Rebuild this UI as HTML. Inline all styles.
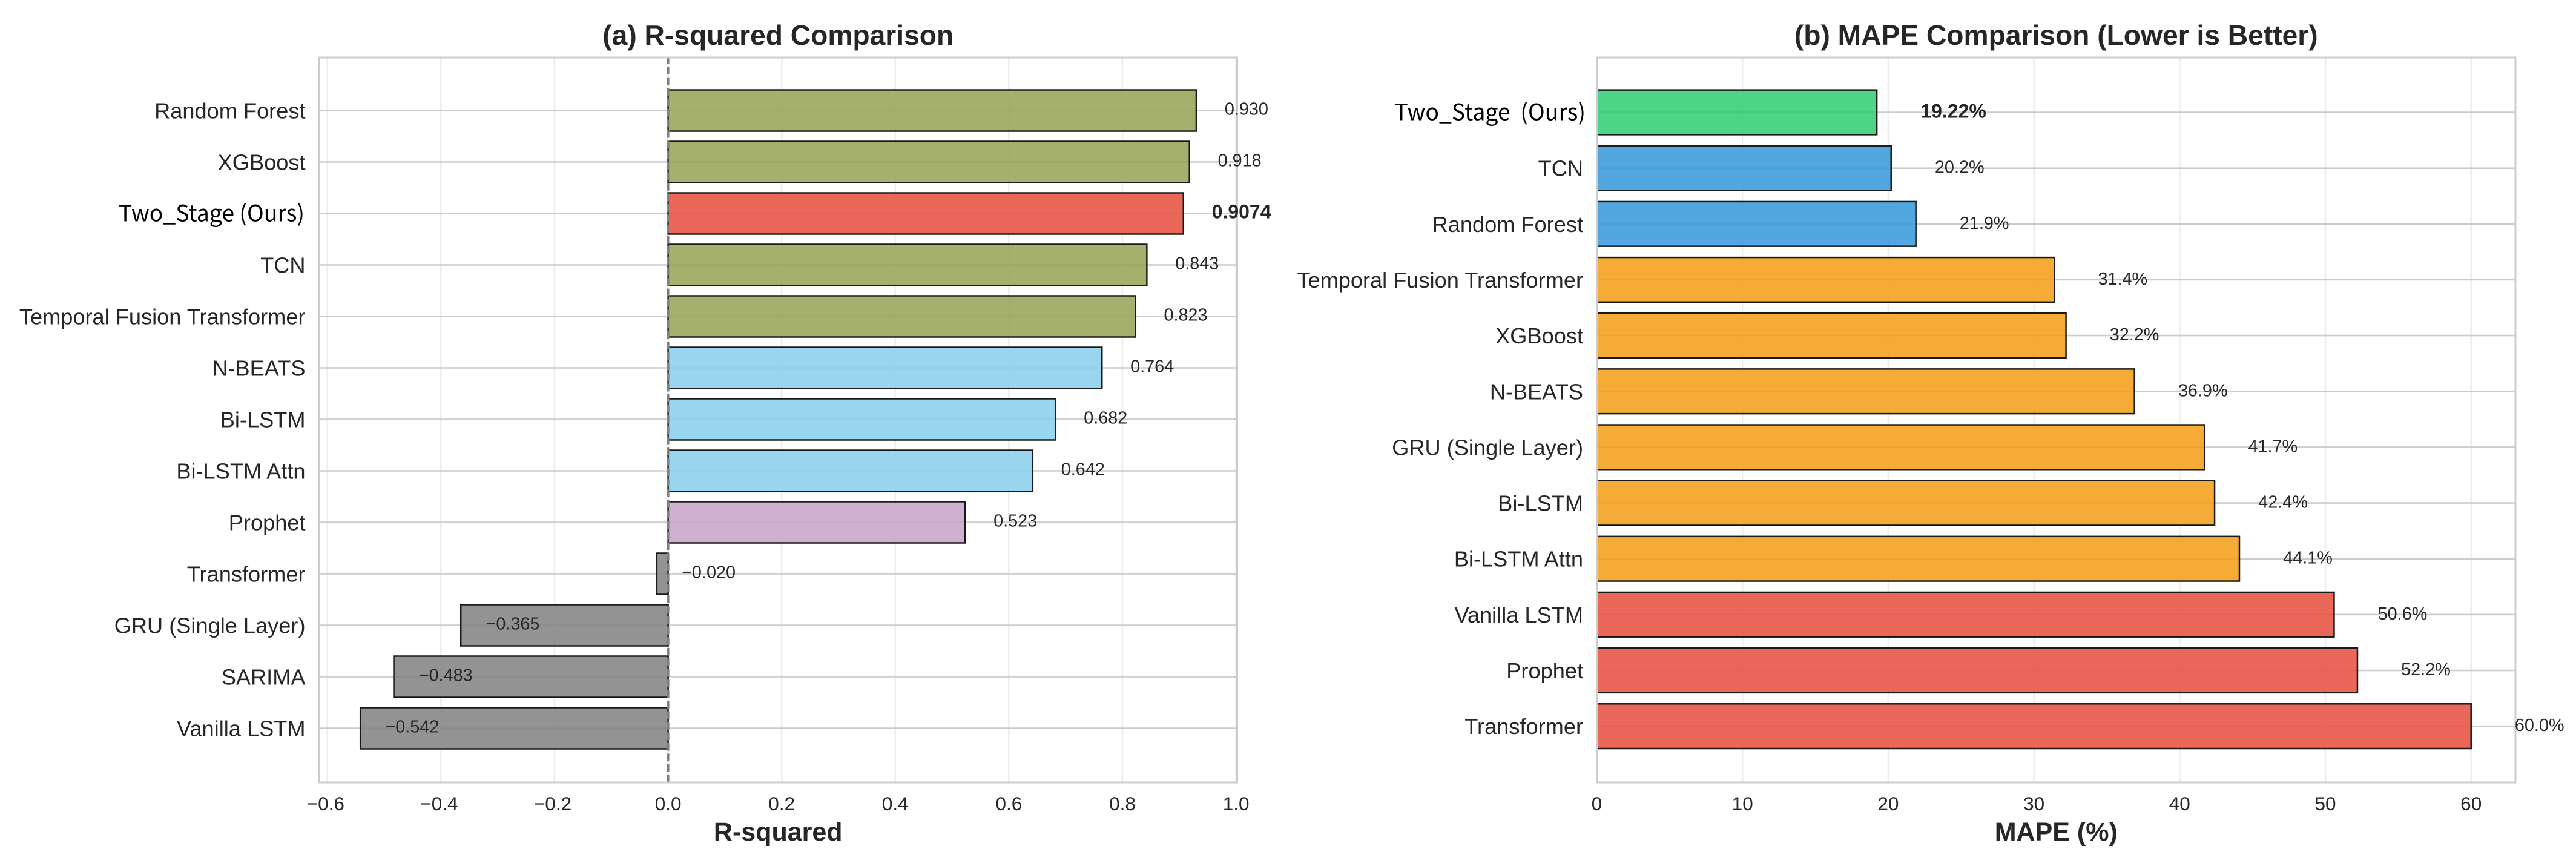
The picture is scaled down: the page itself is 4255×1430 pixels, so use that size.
<!DOCTYPE html>
<html lang="en">
<head>
<meta charset="utf-8">
<title>R-squared and MAPE Comparison</title>
<style>
  html, body { margin: 0; padding: 0; background: #ffffff; }
  body { width: 4255px; height: 1430px; overflow: hidden; }
  svg { display: block; }
  text { font-family: "Liberation Sans", Arial, sans-serif; fill: #262626; }
</style>
</head>
<body>
<svg id="figure" xmlns="http://www.w3.org/2000/svg" width="4255" height="1430" viewBox="0 0 4255 1430"></svg>
<script>
// ---- Panel (a) data ----
const r2Categories = ['Random Forest', 'XGBoost', 'Two_Stage (Ours)', 'TCN', 'Temporal Fusion Transformer', 'N-BEATS', 'Bi-LSTM', 'Bi-LSTM Attn', 'Prophet', 'Transformer', 'GRU (Single Layer)', 'SARIMA', 'Vanilla LSTM'];
const r2Values = [0.930, 0.918, 0.9074, 0.843, 0.823, 0.764, 0.682, 0.642, 0.523, -0.020, -0.365, -0.483, -0.542];
const r2Groups = ['tree', 'tree', 'ours', 'tree', 'tree', 'deep', 'deep', 'deep', 'stat', 'poor', 'poor', 'poor', 'poor'];
const r2Ticks = [-0.6, -0.4, -0.2, 0.0, 0.2, 0.4, 0.6, 0.8, 1.0];

// ---- Panel (b) data ----
const mapeCategories = ['Two_Stage  (Ours)', 'TCN', 'Random Forest', 'Temporal Fusion Transformer', 'XGBoost', 'N-BEATS', 'GRU (Single Layer)', 'Bi-LSTM', 'Bi-LSTM Attn', 'Vanilla LSTM', 'Prophet', 'Transformer'];
const mapeValues = [19.22, 20.2, 21.9, 31.4, 32.2, 36.9, 41.7, 42.4, 44.1, 50.6, 52.2, 60.0];
const mapeGroups = ['best', 'good', 'good', 'mid', 'mid', 'mid', 'mid', 'mid', 'mid', 'bad', 'bad', 'bad'];
const mapeTicks = [0, 10, 20, 30, 40, 50, 60];

const r2Palette = { tree: '#97a254', ours: '#e74c3c', deep: '#87ceeb', stat: '#c8a2c8', poor: '#808080' };
const mapePalette = { best: '#2ecc71', good: '#3498db', mid: '#f39c12', bad: '#e74c3c' };

const NS = 'http://www.w3.org/2000/svg';
const svg = document.getElementById('figure');

function make(tag, attrs, parent) {
  const el = document.createElementNS(NS, tag);
  for (const k in attrs) el.setAttribute(k, attrs[k]);
  parent.appendChild(el);
  return el;
}

function slug(s) {
  return s.toLowerCase().replace(/[^a-z0-9]+/g, '-').replace(/^-|-$/g, '');
}

const TOP = 95, BOTTOM = 1292;

function drawPanel(cfg) {
  const g = make('g', {}, svg);
  
  

  const xOf = v => cfg.x0 + v * cfg.xScale;
  const yOf = i => cfg.yFirst + i * cfg.yStep;
  const barH = cfg.yStep * 0.8;

  // vertical grid
  cfg.ticks.forEach(t => {
    const line = make('line', { x1: xOf(t), x2: xOf(t), y1: TOP, y2: BOTTOM, stroke: '#ededed', 'stroke-width': 2.6 }, g);
    
    
  });

  // horizontal grid
  cfg.categories.forEach((c, i) => {
    const line = make('line', { x1: cfg.left, x2: cfg.right, y1: yOf(i), y2: yOf(i), stroke: '#cccccc', 'stroke-width': 2.6 }, g);
    
    
  });

  // bars
  cfg.values.forEach((v, i) => {
    const a = xOf(0), b = xOf(v);
    const bar = make('rect', {
      x: Math.min(a, b), y: yOf(i) - barH / 2,
      width: Math.abs(b - a), height: barH,
      fill: cfg.palette[cfg.groups[i]], 'fill-opacity': 0.85,
      stroke: '#1a1a1a', 'stroke-width': 2.5
    }, g);
    
    
  });

  // zero reference line
  if (cfg.zeroLine) {
    const zero = make('line', { x1: xOf(0), x2: xOf(0), y1: BOTTOM, y2: TOP, stroke: '#808080', 'stroke-width': 4, 'stroke-dasharray': '12.7 4.75' }, g);
    
    
  }

  // spines
  const frame = make('rect', { x: cfg.left, y: TOP, width: cfg.right - cfg.left, height: BOTTOM - TOP, fill: 'none', stroke: '#cccccc', 'stroke-width': 3 }, g);
  
  

  // category labels
  cfg.categories.forEach((c, i) => {
    const ours = c.indexOf('Two_Stage') === 0;
    const t = make('text', {
      x: ours ? cfg.oursLabelX : cfg.labelX, y: yOf(i) + cfg.labelDy,
      'text-anchor': 'end', 'font-size': ours ? 37.4 : 36.2
    }, g);
    if (ours) {
      t.style.fontFamily = '"Noto Sans CJK SC", "Liberation Sans", sans-serif';
      t.style.fill = '#000000';
      t.style.whiteSpace = 'pre';
    }
    t.textContent = c;
    
    
  });

  // value labels
  cfg.values.forEach((v, i) => {
    const ours = cfg.categories[i].indexOf('Two_Stage') === 0;
    const t = make('text', {
      x: xOf(v + (v < 0 ? cfg.negOffset : cfg.posOffset)), y: yOf(i) + cfg.valueDy + (ours ? 1 : 0),
      'text-anchor': 'start', 'font-size': ours ? 32 : 28.8, 'font-weight': ours ? 'bold' : 'normal'
    }, g);
    t.textContent = cfg.format(v, ours);
    
    
  });

  // x tick labels
  cfg.ticks.forEach(tv => {
    const t = make('text', { x: xOf(tv) - (tv < 0 ? 3 : 0), y: 1338, 'text-anchor': 'middle', 'font-size': 31.5 }, g);
    t.textContent = cfg.tickFormat(tv);
    
    
  });

  // title
  const title = make('text', { x: (cfg.left + cfg.right) / 2, y: 74, 'text-anchor': 'middle', 'font-size': 46.2, 'font-weight': 'bold' }, g);
  title.textContent = cfg.title;
  
  

  // x axis title
  const xt = make('text', { x: (cfg.left + cfg.right) / 2, y: 1388, 'text-anchor': 'middle', 'font-size': 43, 'font-weight': 'bold' }, g);
  xt.textContent = cfg.xTitle;
  
  
}

drawPanel({
  id: 'r-squared',
  title: '(a) R-squared Comparison',
  xTitle: 'R-squared',
  categories: r2Categories, values: r2Values, groups: r2Groups, ticks: r2Ticks, palette: r2Palette,
  left: 527, right: 2043.5, x0: 1103.6, xScale: 938,
  yFirst: 182.5, yStep: 85,
  labelX: 504.5, oursLabelX: 503, labelDy: 13, valueDy: 7,
  posOffset: 0.05, negOffset: 0.044,
  zeroLine: true,
  format: (v, ours) => (v < 0 ? '\u2212' : '') + Math.abs(v).toFixed(ours ? 4 : 3),
  tickFormat: v => (v < 0 ? '\u2212' : '') + Math.abs(v).toFixed(1)
});

drawPanel({
  id: 'mape',
  title: '(b) MAPE Comparison (Lower is Better)',
  xTitle: 'MAPE (%)',
  categories: mapeCategories, values: mapeValues, groups: mapeGroups, ticks: mapeTicks, palette: mapePalette,
  left: 2637.5, right: 4155, x0: 2637.5, xScale: 24.07,
  yFirst: 185.5, yStep: 92.15,
  labelX: 2615, oursLabelX: 2619, labelDy: 13, valueDy: 8,
  posOffset: 3, negOffset: 3,
  zeroLine: false,
  format: (v, ours) => v.toFixed(ours ? 2 : 1) + '%',
  tickFormat: v => String(v)
});
</script>
</body>
</html>
